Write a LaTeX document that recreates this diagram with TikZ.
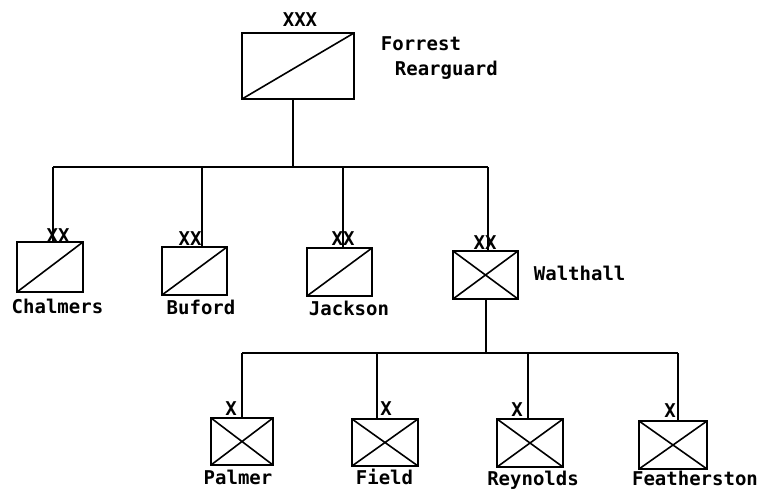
\documentclass[tikz,border=0pt]{standalone}
\usepackage{fontspec}
\setmonofont{DejaVu Sans Mono}
\begin{document}
\begin{tikzpicture}[x=1pt,y=-1pt,
  line width=1.8pt,
  lbl/.style={font=\ttfamily\bfseries\fontsize{19}{21}\selectfont,inner sep=0pt,anchor=base},
  lbll/.style={lbl,anchor=base west},
  diag/.style={path picture={\draw[line width=1.6pt] (path picture bounding box.south west) -- (path picture bounding box.north east);}},
  cross/.style={path picture={\draw[line width=1.6pt] (path picture bounding box.south west) -- (path picture bounding box.north east)
     (path picture bounding box.north west) -- (path picture bounding box.south east);}}]
\useasboundingbox (0,0) rectangle (765,491);
% boxes
\node[draw,diag,minimum width=112pt,minimum height=66pt,inner sep=0pt] (forrest) at (298,66) {};
\node[draw,diag,minimum width=66pt,minimum height=50pt,inner sep=0pt] (chalmers) at (50,267) {};
\node[draw,diag,minimum width=65pt,minimum height=48pt,inner sep=0pt] (buford) at (194.5,271) {};
\node[draw,diag,minimum width=65pt,minimum height=48pt,inner sep=0pt] (jackson) at (339.5,272) {};
\node[draw,cross,minimum width=65pt,minimum height=48pt,inner sep=0pt] (walthall) at (485.5,275) {};
\node[draw,cross,minimum width=62pt,minimum height=47pt,inner sep=0pt] (palmer) at (242,441.5) {};
\node[draw,cross,minimum width=66pt,minimum height=47pt,inner sep=0pt] (field) at (385,442.5) {};
\node[draw,cross,minimum width=66pt,minimum height=48pt,inner sep=0pt] (reynolds) at (530,443) {};
\node[draw,cross,minimum width=68pt,minimum height=48pt,inner sep=0pt] (featherston) at (673,445) {};
% junctions
\coordinate (t0) at (293,167);
\coordinate (t1) at (53,167);
\coordinate (t2) at (202,167);
\coordinate (t3) at (343,167);
\coordinate (t4) at (488,167);
\coordinate (b0) at (486,353);
\coordinate (b1) at (242,353);
\coordinate (b2) at (377,353);
\coordinate (b3) at (528,353);
\coordinate (b4) at (678,353);
% connectors
\draw (t0 |- forrest.south) -- (t0);
\draw (t1) -- (t4);
\draw (t1) -- (t1 |- chalmers.north);
\draw (t2) -- (t2 |- buford.north);
\draw (t3) -- (t3 |- jackson.north);
\draw (t4) -- (t4 |- walthall.north);
\draw (b0 |- walthall.south) -- (b0);
\draw (b1) -- (b4);
\draw (b1) -- (b1 |- palmer.north);
\draw (b2) -- (b2 |- field.north);
\draw (b3) -- (b3 |- reynolds.north);
\draw (b4) -- (b4 |- featherston.north);
% labels
\node[lbl] (lxxx) at (300,26) {XXX};
\node[lbll] (lforrest) at (380,50) {Forrest};
\node[lbll] (lrear) at (394,75) {Rearguard};
\node[lbl] (lxx1) at (58,242) {XX};
\node[lbl] (lxx2) at (190,245) {XX};
\node[lbl] (lxx3) at (343,245) {XX};
\node[lbl] (lxx4) at (485,249) {XX};
\node[lbl] (lchal) at (57.5,313) {Chalmers};
\node[lbl] (lbuf) at (201,314) {Buford};
\node[lbl] (ljack) at (349,315) {Jackson};
\node[lbll] (lwalt) at (533,280) {Walthall};
\node[lbl] (lx1) at (231,415) {X};
\node[lbl] (lx2) at (386,415) {X};
\node[lbl] (lx3) at (517,416) {X};
\node[lbl] (lx4) at (670,417) {X};
\node[lbl] (lpal) at (238,484) {Palmer};
\node[lbl] (lfield) at (384.5,484) {Field};
\node[lbl] (lrey) at (533,485) {Reynolds};
\node[lbl] (lfeat) at (695,485) {Featherston};
\end{tikzpicture}
\end{document}
